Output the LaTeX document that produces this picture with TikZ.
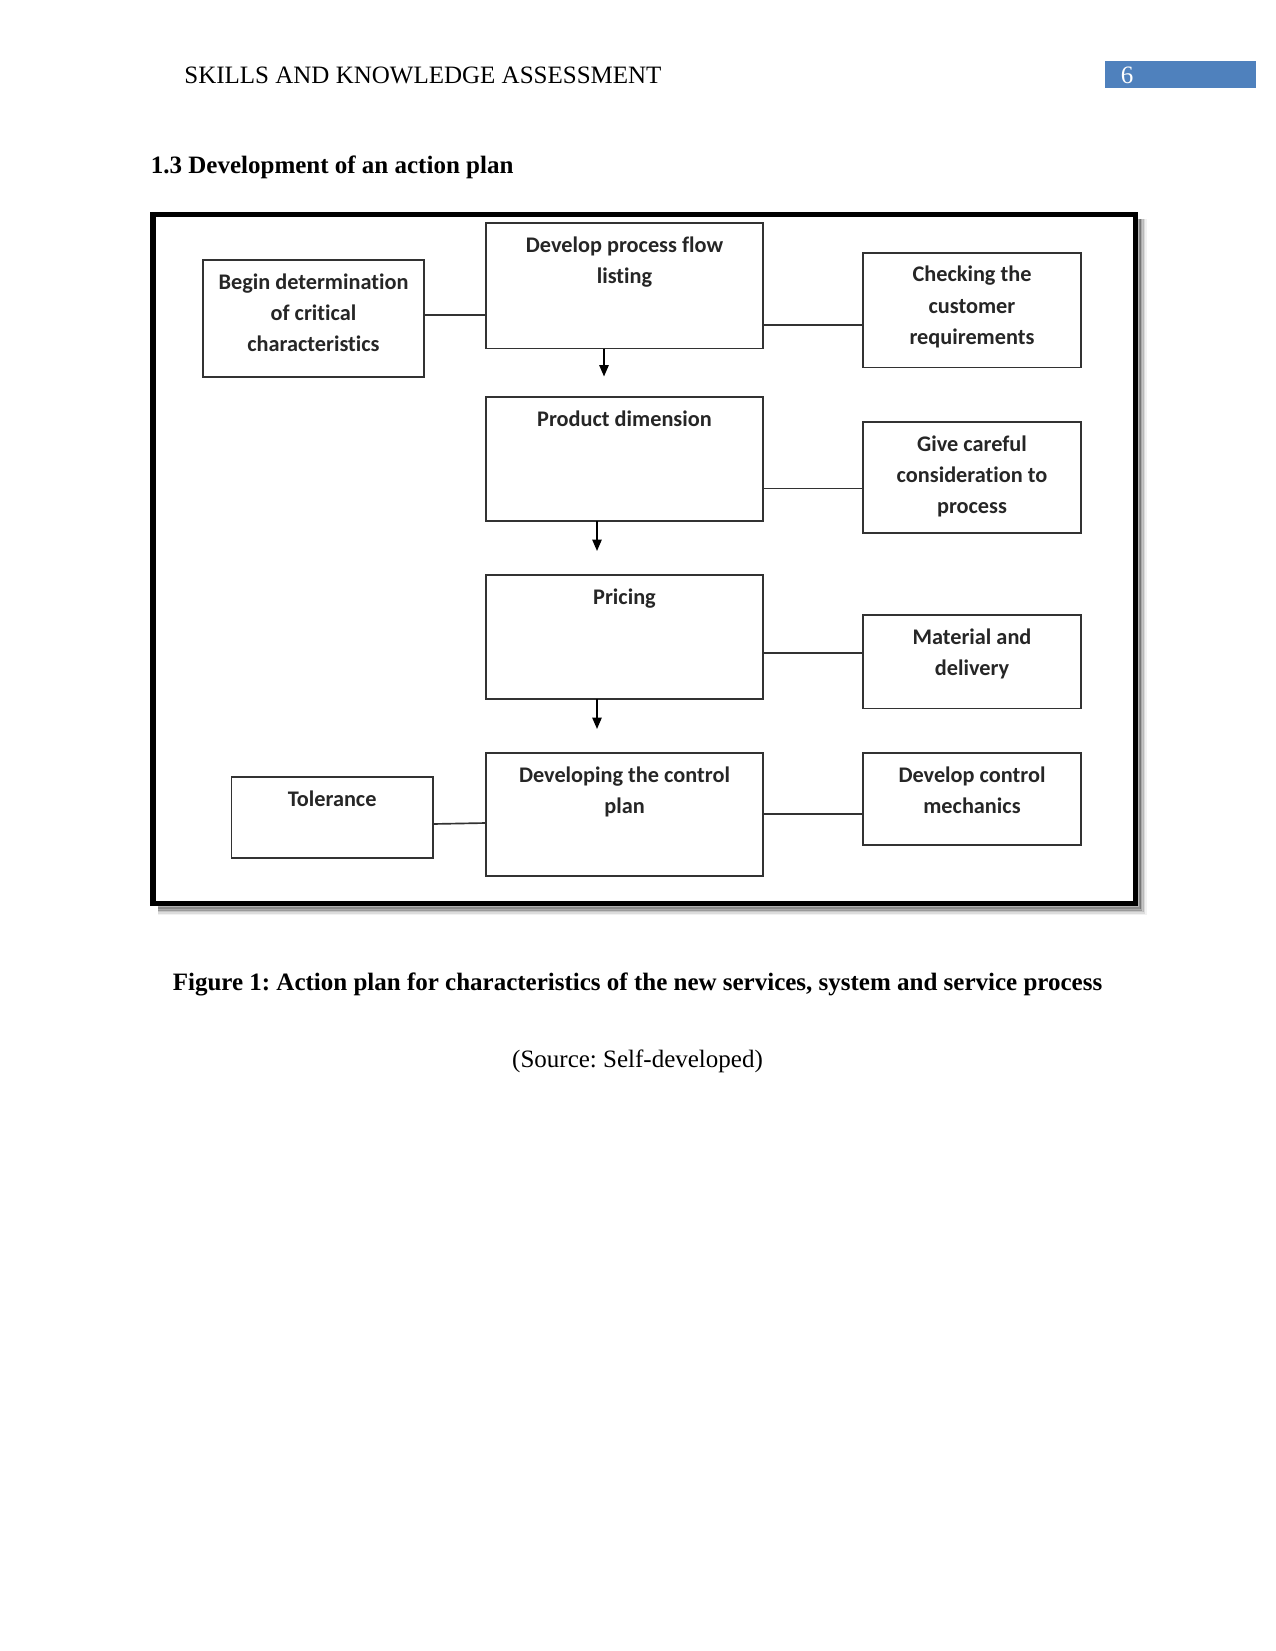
\documentclass[tikz,border=0pt]{standalone}
\usepackage{fontspec}
\setmainfont{Liberation Serif}
\newfontfamily\calfont[Ligatures=NoCommon]{Carlito}
\usetikzlibrary{arrows.meta}
\frenchspacing
\definecolor{hdrblue}{RGB}{79,129,189}
\definecolor{boxline}{RGB}{50,50,50}
\newcommand\mkbox[6]{%
  \pgfmathsetmacro\mybw{(#4-#2)*0.48}%
  \pgfmathsetmacro\mybh{(#5-#3)*0.48}%
  \node[fbox, minimum width=\mybw pt, minimum height=\mybh pt] (#1) at ({(#2+#4)/2},{(#3+#5)/2})
    {\parbox[c][\mybh pt][t]{\mybw pt}{\centering\rule{0pt}{14pt}#6}};}
\begin{document}
\begin{tikzpicture}[x=0.48pt,y=-0.48pt,
  fbox/.style={draw=boxline, line width=0.8pt, inner sep=0pt, outer sep=0pt,
    font=\calfont\bfseries\fontsize{10.7}{15}\selectfont, text=black!85},
  conn/.style={draw=boxline, line width=0.8pt},
  arr/.style={draw=black, line width=0.8pt, -{Triangle[length=5.5pt,width=4.5pt]}},
  plain/.style={inner sep=0pt, font=\fontsize{12}{14}\selectfont}]
\fill[white] (0,0) rectangle (1275,1651);
\useasboundingbox (0,0) rectangle (1275,1651);
% header
\node[plain, anchor=base west] (hdr) at (184,84) {SKILLS AND KNOWLEDGE ASSESSMENT};
\fill[hdrblue] (1105,61) rectangle (1256,88);
\node[plain, anchor=base, text=white] (pg) at (1127,84) {6};
\node[plain, anchor=base west, font=\bfseries\fontsize{12}{14}\selectfont] (sec) at (150.5,174) {1.3 Development of an action plan};
% frame shadow
\foreach \o/\op in {1/0.30,2.5/0.22,4/0.15,5.5/0.09,7/0.05}{
  \draw[black, opacity=\op, line width=1.6pt] (1138+\o,219) -- (1138+\o,906.5+\o) -- (158,906.5+\o);
}
% frame
\draw[black, line width=2.64pt] (153.2,214.4) rectangle (1135.3,903.7);
% boxes
\mkbox{begin}{203}{260}{424}{377}{Begin determination\\of critical\\characteristics}
\mkbox{dev}{486}{223}{763}{348.5}{Develop process flow\\listing}
\mkbox{chk}{863}{252.7}{1081}{367.4}{Checking the\\customer\\requirements}
\mkbox{prod}{486}{397}{763}{521}{Product dimension}
\mkbox{give}{863}{422}{1081}{533}{Give careful\\consideration to\\process}
\mkbox{pric}{486}{575}{763}{699}{Pricing}
\mkbox{mat}{863}{615}{1081}{708.5}{Material and\\delivery}
\mkbox{ctrl}{486}{753}{763}{876}{Developing the control\\plan}
\mkbox{mech}{863}{753}{1081}{845}{Develop control\\mechanics}
\mkbox{tol}{231.6}{777}{432.7}{858}{Tolerance}
% connector levels
\coordinate (y1) at (0,315);
\coordinate (y2) at (0,325);
\coordinate (y3) at (0,488.5);
\coordinate (y4) at (0,652.7);
\coordinate (y5) at (0,814);
\coordinate (y6a) at (0,824);
\coordinate (y6b) at (0,823);
\draw[conn] (begin.east |- y1) -- (dev.west |- y1);
\draw[conn] (dev.east |- y2) -- (chk.west |- y2);
\draw[conn] (prod.east |- y3) -- (give.west |- y3);
\draw[conn] (pric.east |- y4) -- (mat.west |- y4);
\draw[conn] (ctrl.east |- y5) -- (mech.west |- y5);
\draw[conn] (tol.east |- y6a) -- (ctrl.west |- y6b);
% arrows
\coordinate (a1) at (604,376.5);
\coordinate (a2) at (597,551);
\coordinate (a3) at (597,729);
\draw[arr] (dev.south -| a1) -- (a1);
\draw[arr] (prod.south -| a2) -- (a2);
\draw[arr] (pric.south -| a3) -- (a3);
% caption
\node[plain, anchor=base, font=\bfseries\fontsize{12}{14}\selectfont] (cap) at (637.5,990) {Figure 1: Action plan for characteristics of the new services, system and service process};
\node[plain, anchor=base] (src) at (637.5,1067.5) {(Source: Self-developed)};
\end{tikzpicture}
\end{document}
